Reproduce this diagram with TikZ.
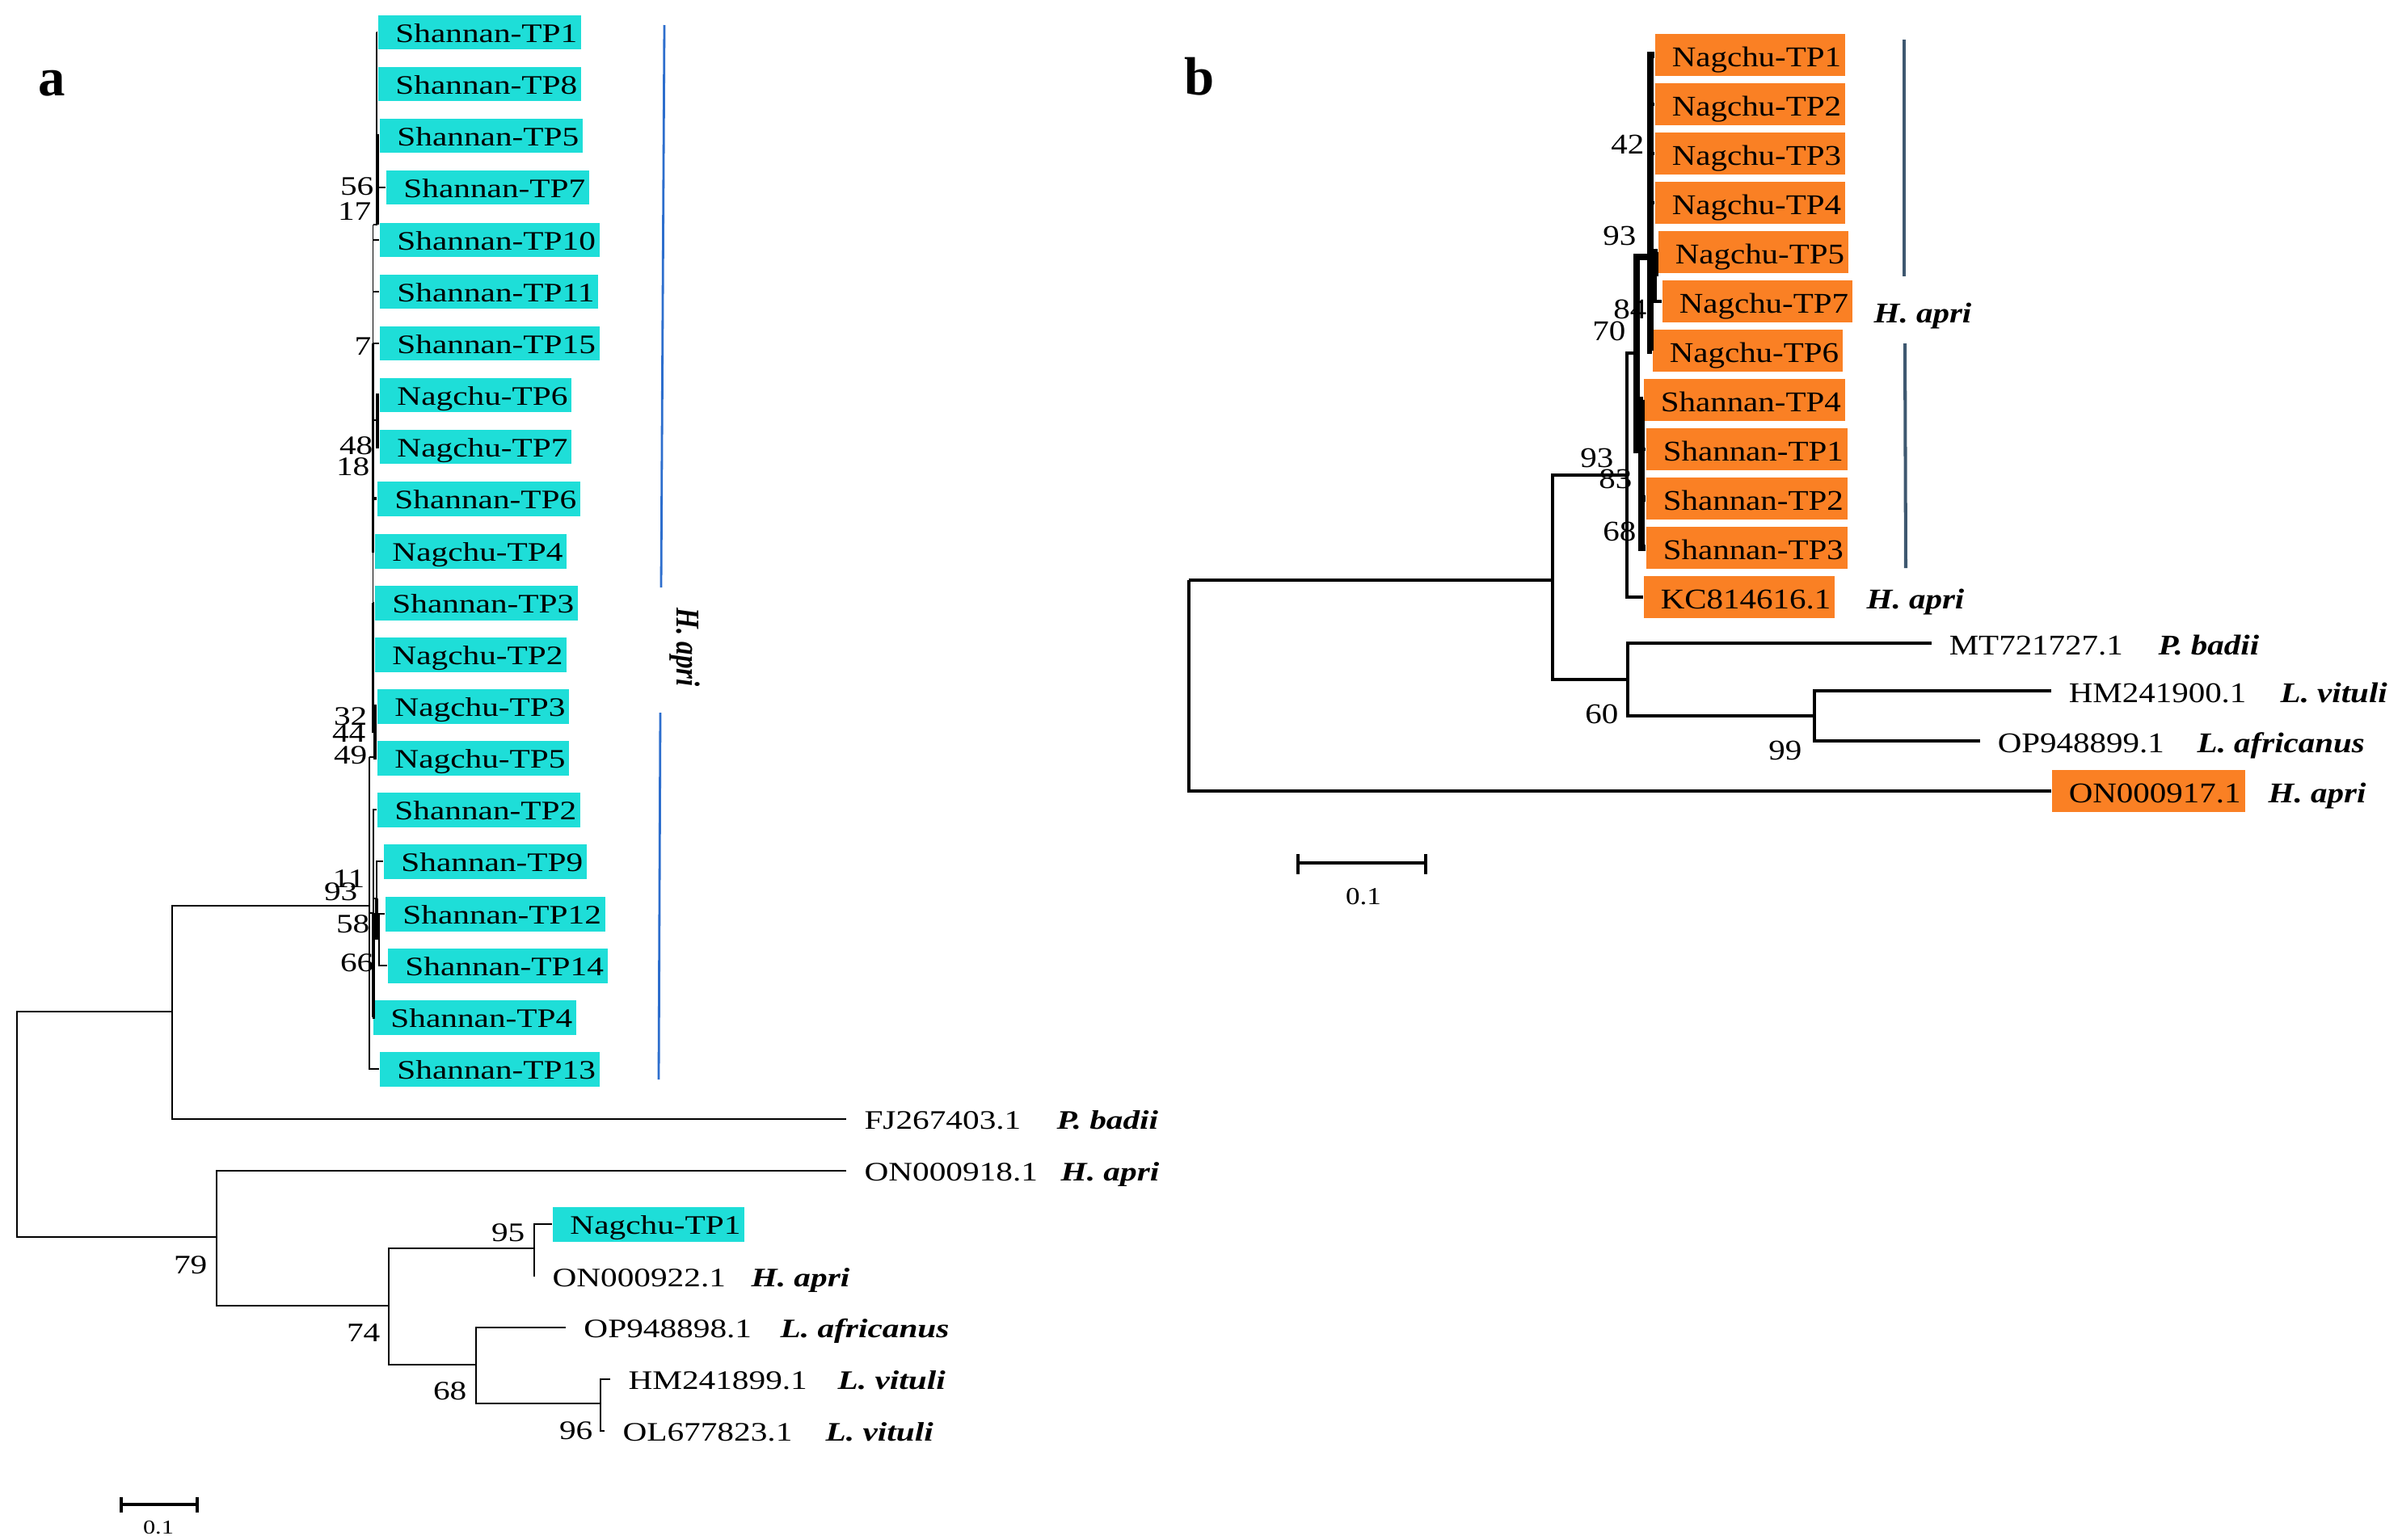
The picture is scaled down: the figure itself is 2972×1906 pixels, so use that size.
\documentclass[tikz,border=0pt]{standalone}
\usepackage{fontspec}
\setmainfont{Liberation Serif}
\usepackage{graphicx}
\definecolor{cyanbox}{RGB}{30,222,216}
\definecolor{orangebox}{RGB}{250,128,36}
\definecolor{bluebar}{RGB}{45,110,205}
\definecolor{slatebar}{RGB}{62,88,112}
\newcommand\sxa[1]{\scalebox{1.25}[1]{#1}}
\newcommand\sxb[1]{\scalebox{1.16}[1]{#1}}
\newcommand\la[1]{\hspace*{6.2pt}\sxa{#1}\hspace*{1.4pt}}
\newcommand\lbb[1]{\hspace*{6pt}\sxb{#1}\hspace*{1.4pt}}
\tikzset{
  leafa/.style={anchor=west, inner xsep=0pt, inner ysep=0pt, text height=9.56pt, text depth=2.67pt, font=\fontsize{9.4pt}{11pt}\selectfont},
  boxa/.style={leafa, fill=cyanbox},
  spa/.style={leafa, font=\fontsize{9.4pt}{11pt}\selectfont\bfseries\itshape},
  bsa/.style={anchor=east, inner sep=0pt, text height=6.35pt, text depth=0pt, font=\fontsize{9.4pt}{11pt}\selectfont},
  leafb/.style={anchor=west, inner xsep=0pt, inner ysep=0pt, text height=11.5pt, text depth=3.3pt, font=\fontsize{10.05pt}{12pt}\selectfont},
  boxb/.style={leafb, fill=orangebox},
  spb/.style={leafb, font=\fontsize{10.05pt}{12pt}\selectfont\bfseries\itshape},
  bsb/.style={anchor=east, inner sep=0pt, text height=6.8pt, text depth=0pt, font=\fontsize{10.05pt}{12pt}\selectfont},
  tra/.style={line width=0.55pt},
  trathk/.style={line width=1.1pt},
  trb/.style={line width=1.3pt},
  trbthk/.style={line width=2.3pt},
  panel/.style={anchor=base west, inner sep=0pt, font=\fontsize{19pt}{20pt}\selectfont\bfseries}
}
\begin{document}
\begin{tikzpicture}[x=0.1mm,y=-0.1mm]
\useasboundingbox (0,0) rectangle (2972,1906);
\fill[white] (0,0) rectangle (2972,1906);

% ---------------- panel labels
\node[panel] (pa) at (47,118) {a};
\node[panel] (pb) at (1465,117) {b};

% ---------------- panel a leaves
\node[boxa] (a0) at (467,40) {\la{Shannan-TP1}};
\node[boxa] (a1) at (467,104) {\la{Shannan-TP8}};
\node[boxa] (a2) at (469,168) {\la{Shannan-TP5}};
\node[boxa] (a3) at (477,232) {\la{Shannan-TP7}};
\node[boxa] (a4) at (469,297) {\la{Shannan-TP10}};
\node[boxa] (a5) at (469,361) {\la{Shannan-TP11}};
\node[boxa] (a6) at (469,425) {\la{Shannan-TP15}};
\node[boxa] (a7) at (469,489) {\la{Nagchu-TP6}};
\node[boxa] (a8) at (469,553) {\la{Nagchu-TP7}};
\node[boxa] (a9) at (466,617) {\la{Shannan-TP6}};
\node[boxa] (a10) at (463,682) {\la{Nagchu-TP4}};
\node[boxa] (a11) at (463,746) {\la{Shannan-TP3}};
\node[boxa] (a12) at (463,810) {\la{Nagchu-TP2}};
\node[boxa] (a13) at (466,874) {\la{Nagchu-TP3}};
\node[boxa] (a14) at (466,938) {\la{Nagchu-TP5}};
\node[boxa] (a15) at (466,1002) {\la{Shannan-TP2}};
\node[boxa] (a16) at (474,1066) {\la{Shannan-TP9}};
\node[boxa] (a17) at (476,1131) {\la{Shannan-TP12}};
\node[boxa] (a18) at (479,1195) {\la{Shannan-TP14}};
\node[boxa] (a19) at (461,1259) {\la{Shannan-TP4}};
\node[boxa] (a20) at (469,1323) {\la{Shannan-TP13}};
\node[leafa] (a21) at (1047,1385) {\la{FJ267403.1}};
\node[leafa] (a22) at (1047,1449) {\la{ON000918.1}};
\node[boxa] (a23) at (683,1515) {\la{Nagchu-TP1}};
\node[leafa] (a24) at (661,1580) {\la{ON000922.1}};
\node[leafa] (a25) at (700,1643) {\la{OP948898.1}};
\node[leafa] (a26) at (755,1707) {\la{HM241899.1}};
\node[leafa] (a27) at (748,1771) {\la{OL677823.1}};

\node[spa] (s21) at (1307,1385) {\sxa{P. badii}};
\node[spa] (s22) at (1312,1449) {\sxa{H. apri}};
\node[spa] (s24) at (929,1580) {\sxa{H. apri}};
\node[spa] (s25) at (965,1643) {\sxa{L. africanus}};
\node[spa] (s26) at (1036,1707) {\sxa{L. vituli}};
\node[spa] (s27) at (1021,1771) {\sxa{L. vituli}};

% clade bar a
\coordinate (ba1) at (822,31);
\coordinate (ba2) at (818,727);
\coordinate (ba3) at (817,882);
\coordinate (ba4) at (815,1336);
\draw[bluebar, line width=0.8pt] (ba1) -- (ba2);
\draw[bluebar, line width=0.8pt] (ba3) -- (ba4);
\node[rotate=-90, inner sep=0pt, font=\fontsize{9.4pt}{11pt}\selectfont\bfseries\itshape] (cla) at (847,801) {\scalebox{1}[1.25]{H. apri}};

% ---------------- panel a internal nodes
\coordinate (ar) at (21,1391);
\coordinate (ai1) at (213,1252);
\coordinate (ain) at (457,1121);
\coordinate (ao) at (268,1531);
\coordinate (ao2) at (481,1616);
\coordinate (ap) at (661,1545);
\coordinate (al) at (589,1689);
\coordinate (av) at (743,1737);

\draw[tra] (ar) |- (ai1);
\draw[tra] (ar) |- (ao);
\draw[tra] (ai1) |- (ain);
\draw[tra] (ai1) |- (a21.west);
\draw[tra] (ao) |- (a22.west);
\draw[tra] (ao) |- (ao2);
\draw[tra] (ao2) |- (ap);
\draw[tra] (ao2) |- (al);
\draw[tra] (ap) |- (a23.west);
\draw[tra] (ap) |- (a24.west);
\draw[tra] (al) |- (a25.west);
\draw[tra] (al) |- (av);
\draw[tra] (av) |- (a26.west);
\draw[tra] (av) |- (a27.west);

% ingroup (star-like)
\coordinate (g1) at (466,40);
\coordinate (g1b) at (467,168);
\coordinate (g2) at (461.5,278);
\coordinate (g78) at (467,520);
\coordinate (g5) at (464,905);
\coordinate (g6) at (457,937);
\coordinate (g7) at (462,1130);
\coordinate (g9) at (466,1112);
\coordinate (g12) at (469,1161);

\draw[tra] (g1) |- (a0.west);
\draw[tra] (g1) |- (a1.west);
\draw[tra] (g1) -- (g1 |- g2) -- (g2);
\draw[trathk] (g1b) |- (a2.west);
\draw[trathk] (g1b) -- (g1b |- g2);
\draw[tra] (g1b |- a3.west) -- (a3.west);
\draw[tra] (g2) |- (a4.west);
\draw[tra] (g2) |- (a5.west);
\draw[tra] (g2) |- (a6.west);
\draw[trathk] (g2 |- a6.west) |- (a9.west);
\draw[trathk] (g2 |- a9.west) |- (a10.west);
\draw[tra] (g2 |- a10.west) |- (a11.west);
\draw[trathk] (g2 |- a11.west) |- (a12.west);
\draw[trathk] (g2 |- a12.west) |- (g5);
\draw[trathk] (g78) |- (a7.west);
\draw[trathk] (g78) |- (a8.west);
\draw[tra] (g78) -- (g78 -| g2);
\draw[trathk] (g5) |- (a13.west);
\draw[trathk] (g5) |- (a14.west);
\draw[tra] (g6) -- (g6 -| g5);
\draw[tra] (g6) |- (a20.west);
\draw[tra] (g7) -- (g7 -| g6);
\draw[tra] (g7) |- (a15.west);
\draw[trathk] (g7) |- (a19.west);
\draw[tra] (g9) |- (a16.west);
\draw[tra] (g9) -- (g9 -| g7);
\draw[trathk] (g9) -- (g9 |- g12) -- (g12);
\draw[tra] (g12) |- (a17.west);
\draw[tra] (g12) |- (a18.west);

% bootstrap a
\node[bsa] (n56) at (463,230) {\sxa{56}};
\node[bsa] (n17) at (460,261) {\sxa{17}};
\node[bsa] (n7) at (460,428) {\sxa{7}};
\node[bsa] (n48) at (462,551) {\sxa{48}};
\node[bsa] (n18) at (458,577) {\sxa{18}};
\node[bsa] (n32) at (455,886) {\sxa{32}};
\node[bsa] (n44) at (453,907) {\sxa{44}};
\node[bsa] (n49) at (455,934) {\sxa{49}};
\node[bsa] (n11) at (452,1087) {\sxa{11}};
\node[bsa] (n93) at (443,1103) {\sxa{93}};
\node[bsa] (n58) at (458,1143) {\sxa{58}};
\node[bsa] (n66) at (463,1191) {\sxa{66}};
\node[bsa] (n79) at (257,1565) {\sxa{79}};
\node[bsa] (n95) at (650,1525) {\sxa{95}};
\node[bsa] (n74) at (471,1649) {\sxa{74}};
\node[bsa] (n68) at (578,1721) {\sxa{68}};
\node[bsa] (n96) at (734,1770) {\sxa{96}};

% scale bar a
\coordinate (sa1) at (150,1862);
\coordinate (sa2) at (244,1862);
\draw[line width=1.1pt] (sa1) -- (sa2);
\draw[line width=1.1pt] ([yshift=0.9mm]sa1) -- ([yshift=-1mm]sa1);
\draw[line width=1.1pt] ([yshift=0.9mm]sa2) -- ([yshift=-1mm]sa2);
\node[inner sep=0pt, font=\fontsize{6.9pt}{8pt}\selectfont] (sal) at (196,1891) {\sxa{0.1}};

% ---------------- panel b leaves
\node[boxb] (b0) at (2047,68) {\lbb{Nagchu-TP1}};
\node[boxb] (b1) at (2047,129) {\lbb{Nagchu-TP2}};
\node[boxb] (b2) at (2047,190) {\lbb{Nagchu-TP3}};
\node[boxb] (b3) at (2047,251) {\lbb{Nagchu-TP4}};
\node[boxb] (b4) at (2051,312) {\lbb{Nagchu-TP5}};
\node[boxb] (b5) at (2056,373) {\lbb{Nagchu-TP7}};
\node[boxb] (b6) at (2044,434) {\lbb{Nagchu-TP6}};
\node[boxb] (b7) at (2033,495) {\lbb{Shannan-TP4}};
\node[boxb] (b8) at (2036,556) {\lbb{Shannan-TP1}};
\node[boxb] (b9) at (2036,617) {\lbb{Shannan-TP2}};
\node[boxb] (b10) at (2036,678) {\lbb{Shannan-TP3}};
\node[boxb] (b11) at (2033,739) {\lbb{KC814616.1}};
\node[leafb] (b12) at (2390,796) {\lbb{MT721727.1}};
\node[leafb] (b13) at (2538,855) {\lbb{HM241900.1}};
\node[leafb] (b14) at (2450,917) {\lbb{OP948899.1}};
\node[boxb] (b15) at (2538,979) {\lbb{ON000917.1}};

\node[spb] (t11) at (2309,739) {\sxb{H. apri}};
\node[spb] (t12) at (2670,796) {\sxb{P. badii}};
\node[spb] (t13) at (2821,855) {\sxb{L. vituli}};
\node[spb] (t14) at (2718,917) {\sxb{L. africanus}};
\node[spb] (t15) at (2806,979) {\sxb{H. apri}};
\node[spb] (clb) at (2318,385) {\sxb{H. apri}};

% clade bar b
\coordinate (bb1) at (2356,49);
\coordinate (bb2) at (2356,342);
\coordinate (bb3) at (2357,425);
\coordinate (bb4) at (2358,703);
\draw[slatebar, line width=1.15pt] (bb1) -- (bb2);
\draw[slatebar, line width=1.15pt] (bb3) -- (bb4);

% ---------------- panel b internal nodes
\coordinate (br) at (1471,718);
\coordinate (b1n) at (1921,718);
\coordinate (b2n) at (2013,588);
\coordinate (b3n) at (2014,841);
\coordinate (b4n) at (2245,886);
\coordinate (b5n) at (2025,437);
\coordinate (bng) at (2042,318);
\coordinate (b57) at (2048,342);
\coordinate (bsg) at (2031,557);

\draw[trb] (br) -- (b1n);
\draw[trb] (br) |- (b15.west);
\draw[trb] (b1n) |- (b2n);
\draw[trb] (b1n) |- (b3n);
\draw[trb] (b3n) |- (b12.west);
\draw[trb] (b3n) |- (b4n);
\draw[trb] (b4n) |- (b13.west);
\draw[trb] (b4n) |- (b14.west);
\draw[trb] (b2n) |- (b5n);
\draw[trb] (b2n) |- (b11.west);
\draw[trbthk] (b5n) |- (bng);
\draw[trbthk] (b5n) |- (bsg);
\draw[trbthk] (bng) |- (b0.west);
\draw[trb] (bng) |- (b1.west);
\draw[trb] (bng) |- (b2.west);
\draw[trb] (bng) |- (b3.west);
\draw[trbthk] (bng) |- (b6.west);
\draw[trbthk] (b57) |- (b4.west);
\draw[trb] (b57) |- (b5.west);
\draw[trb] (b57) -- (b57 -| bng);
\draw[trbthk] (bsg) |- (b7.west);
\draw[trb] (bsg) |- (b8.west);
\draw[trbthk] (bsg) |- (b9.west);
\draw[trbthk] (bsg) |- (b10.west);

% bootstrap b
\node[bsb] (m42) at (2035,179) {\sxb{42}};
\node[bsb] (m93a) at (2025,292) {\sxb{93}};
\node[bsb] (m84) at (2038,383) {\sxb{84}};
\node[bsb] (m70) at (2012,410) {\sxb{70}};
\node[bsb] (m93b) at (1997,567) {\sxb{93}};
\node[bsb] (m83) at (2020,593) {\sxb{83}};
\node[bsb] (m68) at (2025,658) {\sxb{68}};
\node[bsb] (m60) at (2003,884) {\sxb{60}};
\node[bsb] (m99) at (2230,929) {\sxb{99}};

% scale bar b
\coordinate (sb1) at (1606,1068);
\coordinate (sb2) at (1764,1068);
\draw[line width=1.4pt] (sb1) -- (sb2);
\draw[line width=1.4pt] ([yshift=1.1mm]sb1) -- ([yshift=-1.4mm]sb1);
\draw[line width=1.4pt] ([yshift=1.1mm]sb2) -- ([yshift=-1.4mm]sb2);
\node[inner sep=0pt, font=\fontsize{8.6pt}{10pt}\selectfont] (sbl) at (1687,1110) {\sxb{0.1}};
\end{tikzpicture}
\end{document}
